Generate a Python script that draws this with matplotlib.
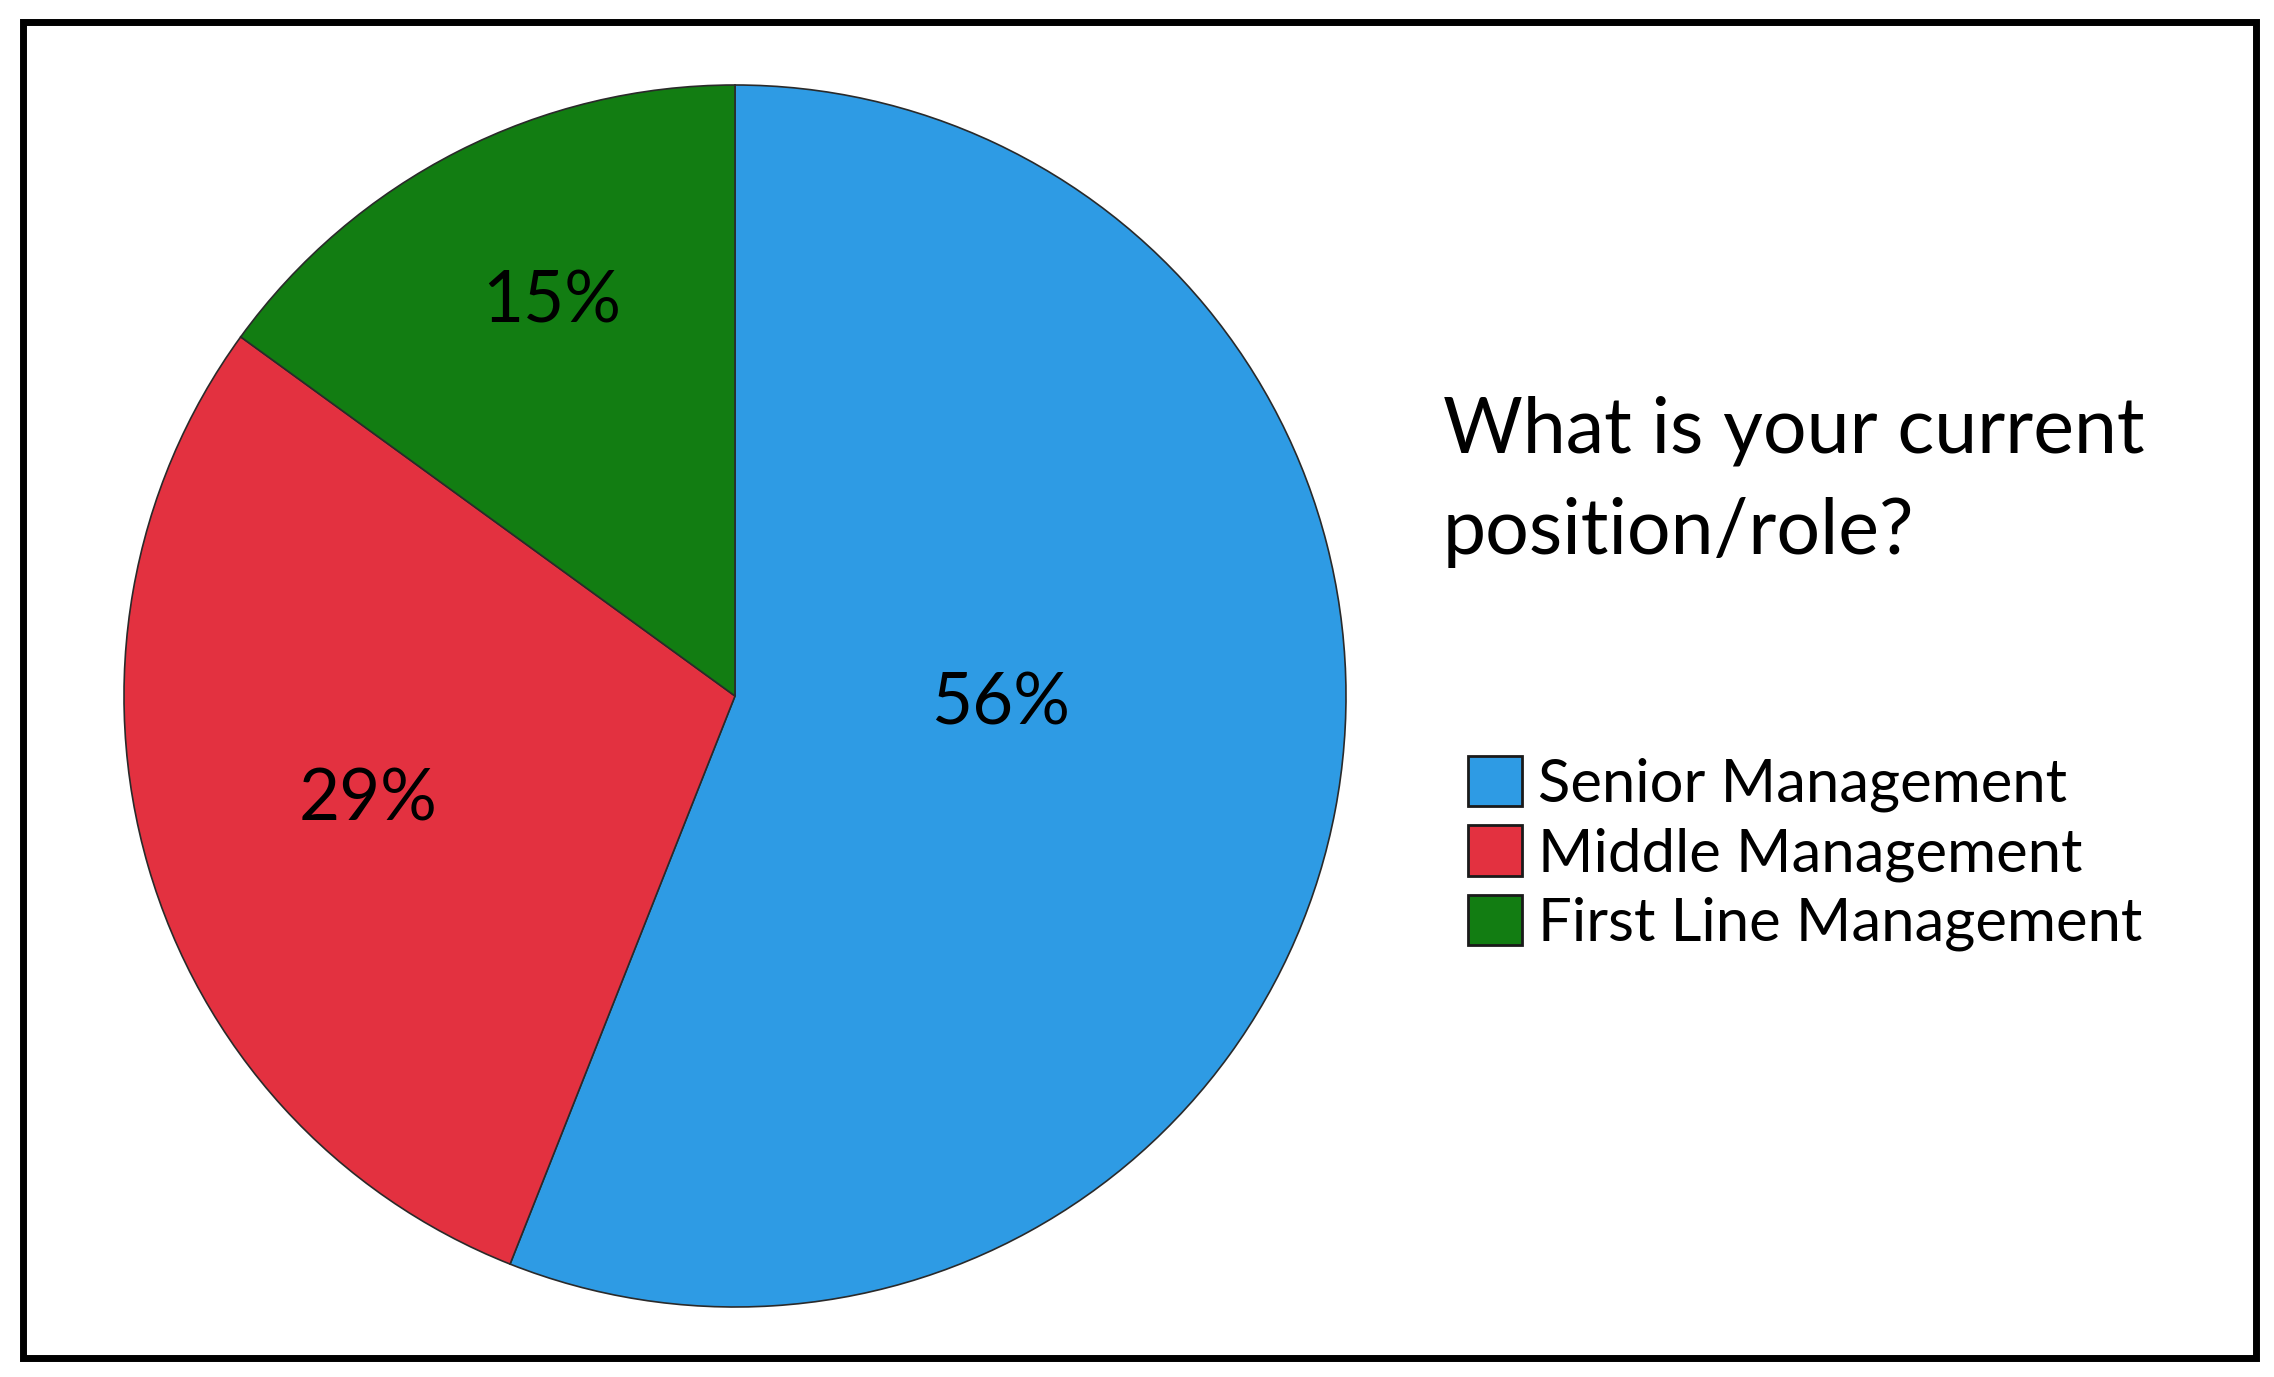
import matplotlib
matplotlib.use("Agg")
import matplotlib.pyplot as plt
from matplotlib.patches import Rectangle
from matplotlib import font_manager

categories = ["Senior Management", "Middle Management", "First Line Management"]
values = [56, 29, 15]
pct_labels = ["56%", "29%", "15%"]
colors = ["#2E9BE4", "#E33140", "#127D12"]
title_lines = ["What is your current", "position/role?"]

available = {f.name for f in font_manager.fontManager.ttflist}
def pick(names):
    for n in names:
        if n in available:
            return n
    return "DejaVu Sans"

label_font = pick(["Lato", "Open Sans", "DejaVu Sans"])
title_font = pick(["Lato", "Open Sans", "DejaVu Sans"])
legend_font = pick(["Lato", "DejaVu Sans"])

W, H = 2274, 1377
fig = plt.figure(figsize=(W / 100, H / 100), dpi=100)
fig.patch.set_facecolor("white")

cx, cy, r = 735, 696, 611
ax = fig.add_axes([(cx - r) / W, (H - cy - r) / H, 2 * r / W, 2 * r / H])
wedges, _ = ax.pie(values, colors=colors, startangle=90, counterclock=False,
                   radius=1.0, wedgeprops=dict(edgecolor="#2a2a2a", linewidth=1.2))
for w in wedges:
    w.set_clip_on(False)
ax.set_xlim(-1.0, 1.0)
ax.set_ylim(-1.0, 1.0)
ax.set_aspect("equal")
ax.axis("off")

# percentage labels (axes-relative positions)
label_pos = [(0.434, -0.013), (-0.60, -0.17), (-0.30, 0.645)]
for txt, (x, y) in zip(pct_labels, label_pos):
    ax.text(x, y, txt, ha="center", va="center", fontsize=51,
            family=label_font, color="black")

# title (two lines, baselines at 453 and 554 px from top)
for line, base in zip(title_lines, [453, 554]):
    fig.text(1443 / W, 1 - base / H, line, ha="left", va="baseline",
             fontsize=55.5, family=title_font, color="black")

# legend
fs = 43
fs_px = fs * 100 / 72
leg = fig.legend(wedges, categories, loc="upper left",
                 bbox_to_anchor=(1468 / W, 1 - 756 / H), frameon=False,
                 prop=dict(family=legend_font, size=fs),
                 handlelength=54 / fs_px, handleheight=55 / fs_px,
                 handletextpad=16 / fs_px, labelspacing=13 / fs_px,
                 borderpad=0, borderaxespad=0)
for h in leg.legend_handles:
    h.set_edgecolor("#1a1a1a")
    h.set_linewidth(2.0)

# frame
fig.add_artist(Rectangle((22.5 / W, 1 - 1357.5 / H), (2255.5 - 22.5) / W,
                         (1357.5 - 21.5) / H, transform=fig.transFigure,
                         fill=False, edgecolor="black", linewidth=5.0))

fig.savefig("out.png", dpi=100, facecolor="white")
